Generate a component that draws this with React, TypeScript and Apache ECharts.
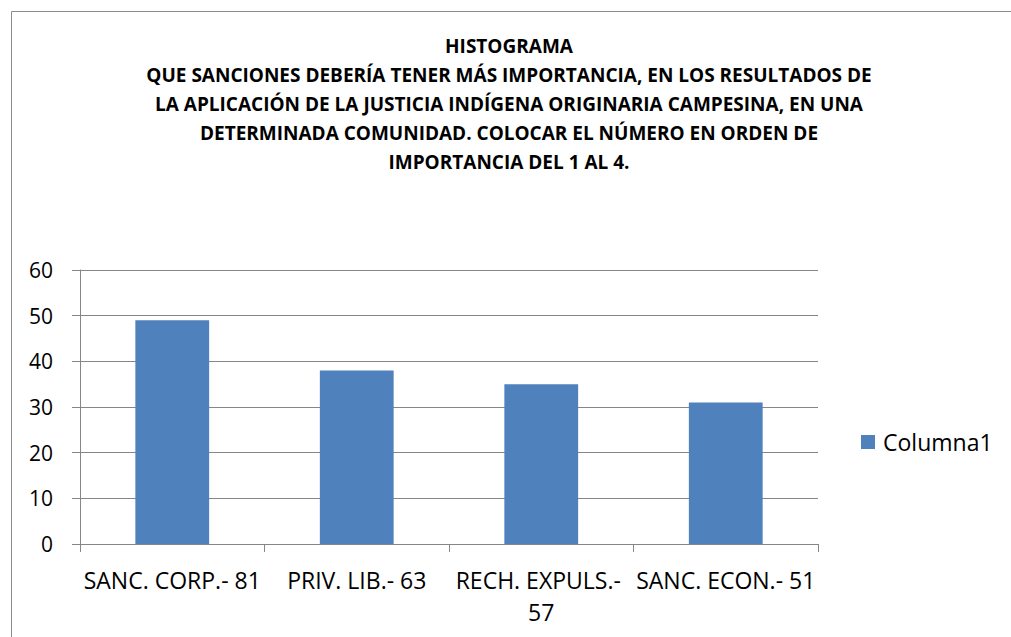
import React, { useEffect, useRef } from "react";
import * as echarts from "echarts";

const categories = ["SANC. CORP.- 81", "PRIV. LIB.- 63", "RECH. EXPULS.- 57", "SANC. ECON.- 51"];
const values = [49, 38, 35, 31];
const seriesName = "Columna1";
const titleLines = [
  "HISTOGRAMA",
  "QUE SANCIONES DEBERÍA TENER MÁS IMPORTANCIA, EN LOS RESULTADOS DE",
  "LA APLICACIÓN DE LA JUSTICIA INDÍGENA ORIGINARIA CAMPESINA, EN UNA",
  "DETERMINADA COMUNIDAD. COLOCAR EL NÚMERO EN ORDEN DE",
  "IMPORTANCIA DEL 1 AL 4.",
];

const FONT = "Open Sans";

export default function App() {
  const ref = useRef<HTMLDivElement>(null);
  useEffect(() => {
    if (!ref.current) return;
    const chart = echarts.init(ref.current, null, { renderer: "svg" });
    chart.setOption({
      animation: false,
      backgroundColor: "#ffffff",
      title: {
        text: titleLines.join("\n"),
        left: 509,
        top: 31,
        padding: 0,
        textAlign: "center",
        textStyle: {
          fontFamily: FONT,
          fontWeight: "bold",
          fontSize: 19,
          lineHeight: 29,
          color: "#000000",
        },
      },
      graphic: [
        {
          type: "rect",
          shape: { x: 11.5, y: 11.5, width: 1100, height: 700 },
          style: { fill: "none", stroke: "#8c8c8c", lineWidth: 1 },
          silent: true,
        },
      ],
      legend: {
        left: 861,
        top: 430,
        padding: 0,
        itemWidth: 14,
        itemHeight: 14,
        icon: "rect",
        textStyle: { fontFamily: FONT, fontSize: 23, lineHeight: 24, color: "#000000", padding: [0, 0, 0, 3] },
        data: [seriesName],
      },
      grid: { left: 80, right: 193, top: 270, bottom: 93, containLabel: false },
      xAxis: {
        type: "category",
        data: categories,
        axisLine: { lineStyle: { color: "#868686", width: 1 } },
        axisTick: { show: true, length: 8, alignWithLabel: false, lineStyle: { color: "#868686" } },
        axisLabel: {
          interval: 0,
          margin: 20,
          fontFamily: FONT,
          fontSize: 23,
          lineHeight: 32,
          color: "#000000",
          width: 184,
          overflow: "break",
        },
      },
      yAxis: {
        type: "value",
        min: 0,
        max: 60,
        interval: 10,
        axisLine: { show: true, lineStyle: { color: "#868686", width: 1 } },
        axisTick: { show: true, length: 8, lineStyle: { color: "#868686" } },
        splitLine: { show: true, lineStyle: { color: "#868686", width: 1 } },
        axisLabel: { margin: 27, fontFamily: FONT, fontSize: 21, color: "#000000" },
      },
      series: [
        {
          name: seriesName,
          type: "bar",
          data: values,
          barCategoryGap: "60%",
          itemStyle: { color: "#4F81BD" },
        },
      ],
    });
    return () => chart.dispose();
  }, []);
  return (
    <div
      ref={ref}
      style={{ position: "absolute", left: 0, top: 0, width: 1011, height: 637, background: "#fff" }}
    />
  );
}
